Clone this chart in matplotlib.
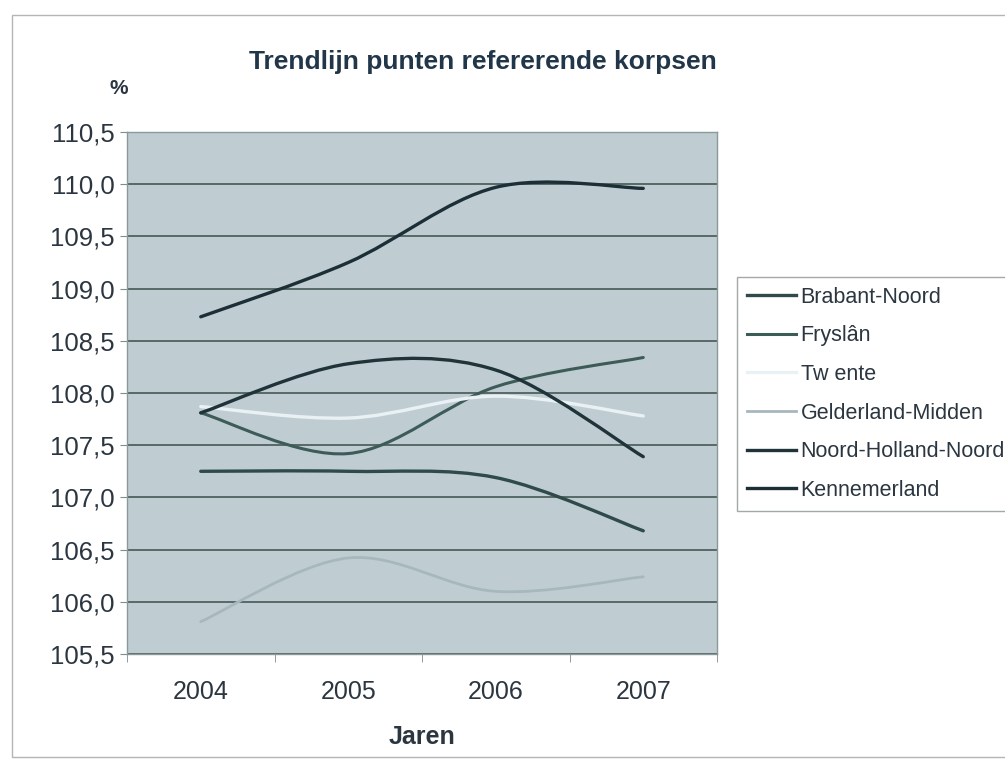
import matplotlib.pyplot as plt
from matplotlib.path import Path
from matplotlib.patches import PathPatch, Rectangle
from matplotlib.lines import Line2D

plt.rcParams['font.family'] = ['Liberation Sans', 'DejaVu Sans']

# data
years = ['2004', '2005', '2006', '2007']
series_names = ['Brabant-Noord', 'Fryslân', 'Tw ente', 'Gelderland-Midden',
                'Noord-Holland-Noord', 'Kennemerland']
brabant_noord = [107.25, 107.25, 107.19, 106.68]
fryslan = [107.81, 107.42, 108.06, 108.34]
twente = [107.87, 107.76, 107.97, 107.78]
gelderland_midden = [105.81, 106.42, 106.10, 106.24]
noord_holland_noord = [107.81, 108.28, 108.22, 107.39]
kennemerland = [108.73, 109.25, 109.97, 109.96]

series = [brabant_noord, fryslan, twente, gelderland_midden,
          noord_holland_noord, kennemerland]
colors = ['#2f4a4a', '#3d5b57', '#eaf1f4', '#a7b8bc', '#1f3338', '#1c2f36']
widths = [2.4, 2.2, 2.4, 2.0, 2.4, 2.4]

text_col = '#2b3640'


def smooth_path(ys):
    # smoothed line like Excel: cubic bezier segments through the points
    pts = [(i, y) for i, y in enumerate(ys)]
    verts = [pts[0]]
    codes = [Path.MOVETO]
    n = len(pts)
    for i in range(n - 1):
        p0 = pts[max(i - 1, 0)]
        p1 = pts[i]
        p2 = pts[i + 1]
        p3 = pts[min(i + 2, n - 1)]
        c1 = (p1[0] + (p2[0] - p0[0]) / 6, p1[1] + (p2[1] - p0[1]) / 6)
        c2 = (p2[0] - (p3[0] - p1[0]) / 6, p2[1] - (p3[1] - p1[1]) / 6)
        verts += [c1, c2, p2]
        codes += [Path.CURVE4] * 3
    return Path(verts, codes)


fig = plt.figure(figsize=(10.05, 7.71), dpi=100)
fig.patches.append(Rectangle((12 / 1005, 14 / 771), 1.0, 742 / 771,
                             transform=fig.transFigure, fill=False,
                             edgecolor='#b5b5b5', lw=1.0))

ax = fig.add_axes([127 / 1005, 1 - 654 / 771, 590 / 1005, 522 / 771])
ax.set_facecolor('#bfcdd3')
ax.set_xlim(-0.5, 3.5)
ax.set_ylim(105.5, 110.5)

yt = [105.5 + 0.5 * i for i in range(11)]
ax.set_yticks(yt)
ax.set_yticklabels([f'{v:.1f}'.replace('.', ',') for v in yt])
ax.yaxis.grid(True, color='#50625f', lw=1.3)
ax.set_axisbelow(True)

ax.set_xticks(range(len(years)))
ax.set_xticklabels(years)
ax.set_xticks([-0.5, 0.5, 1.5, 2.5, 3.5], minor=True)
ax.tick_params(axis='x', which='major', length=0, pad=19, labelsize=18,
               labelcolor=text_col)
ax.tick_params(axis='x', which='minor', length=6, color='#7f8c8c')
ax.tick_params(axis='y', length=5, color='#7f8c8c', labelsize=18.5,
               labelcolor=text_col, pad=4)
for s in ax.spines.values():
    s.set_color('#8c9999')
    s.set_linewidth(1.0)

for ys, c, w in zip(series, colors, widths):
    ax.add_patch(PathPatch(smooth_path(ys), facecolor='none', edgecolor=c,
                           lw=w, capstyle='round', joinstyle='round',
                           transform=ax.transData))

handles = [Line2D([], [], color=c, lw=w) for c, w in zip(colors, widths)]
leg = fig.legend(handles, series_names, loc='upper left',
                 bbox_to_anchor=(737 / 1005, 1 - 277 / 771),
                 frameon=True, fancybox=False, fontsize=15.5,
                 handlelength=2.3, handletextpad=0.2, labelspacing=0.82,
                 borderpad=0.45, borderaxespad=0)
leg.get_frame().set_edgecolor('#8c9494')
leg.get_frame().set_linewidth(1.0)
for t in leg.get_texts():
    t.set_color(text_col)

fig.text(483 / 1005, 1 - 62 / 771, 'Trendlijn punten refererende korpsen',
         ha='center', va='center', fontsize=19, fontweight='bold',
         color='#22364a')
fig.text(119 / 1005, 1 - 88 / 771, '%', ha='center', va='center',
         fontsize=15, fontweight='bold', color=text_col)
fig.text(422 / 1005, 1 - 737 / 771, 'Jaren', ha='center', va='center',
         fontsize=18, fontweight='bold', color=text_col)

fig.savefig('out.png', dpi=100)
